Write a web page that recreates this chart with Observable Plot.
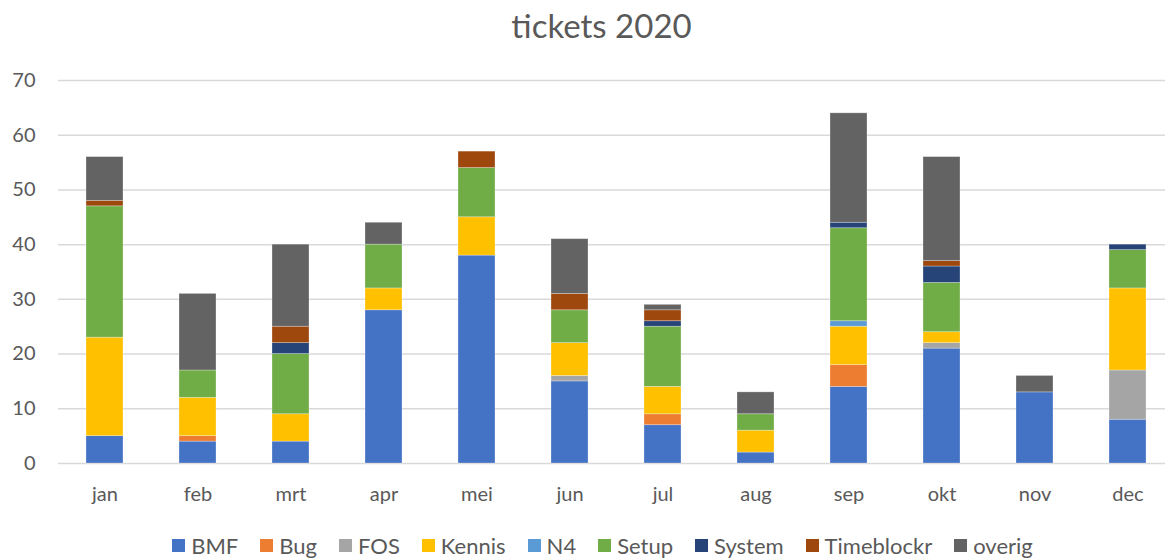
<!DOCTYPE html>
<html>
<head>
<meta charset="utf-8">
<script src="https://cdn.jsdelivr.net/npm/d3@7"></script>
<script src="https://cdn.jsdelivr.net/npm/@observablehq/plot@0.6"></script>
<style>
  body { margin: 0; background: #fff; font-family: Lato, "Noto Sans", sans-serif; overflow: hidden; }
  #title { height: 50px; line-height: 50px; text-align: center; font-size: 33px; color: #595959; padding-left: 38px; }
  #legend { display: flex; justify-content: center; font-size: 22px; color: #595959; margin-top: 12px; padding-left: 40px; }
  .item { display: flex; align-items: center; margin: 0 11px; }
  .sw { width: 13px; height: 13px; margin-right: 6px; }
  svg { display: block; }
</style>
</head>
<body>
<div id="title">tickets 2020</div>
<div id="chart"></div>
<div id="legend"></div>
<script>
const months = ["jan","feb","mrt","apr","mei","jun","jul","aug","sep","okt","nov","dec"];
const seriesNames = ["BMF","Bug","FOS","Kennis","N4","Setup","System","Timeblockr","overig"];
const colors = ["#4472C4","#ED7D31","#A5A5A5","#FFC000","#5B9BD5","#70AD47","#264478","#9E480E","#636363"];

const BMF        = [5, 4, 4, 28, 38, 15, 7, 2, 14, 21, 13, 8];
const Bug        = [0, 1, 0, 0, 0, 0, 2, 0, 4, 0, 0, 0];
const FOS        = [0, 0, 0, 0, 0, 1, 0, 0, 0, 1, 0, 9];
const Kennis     = [18, 7, 5, 4, 7, 6, 5, 4, 7, 2, 0, 15];
const N4         = [0, 0, 0, 0, 0, 0, 0, 0, 1, 0, 0, 0];
const Setup      = [24, 5, 11, 8, 9, 6, 11, 3, 17, 9, 0, 7];
const System     = [0, 0, 2, 0, 0, 0, 1, 0, 1, 3, 0, 1];
const Timeblockr = [1, 0, 3, 0, 3, 3, 2, 0, 0, 1, 0, 0];
const overig     = [8, 14, 15, 4, 0, 10, 1, 4, 20, 19, 3, 0];
const yTicks = [0, 10, 20, 30, 40, 50, 60, 70];

const seriesValues = [BMF, Bug, FOS, Kennis, N4, Setup, System, Timeblockr, overig];
const rows = [];
months.forEach((m, i) => {
  seriesNames.forEach((s, j) => {
    rows.push({month: m, series: s, value: seriesValues[j][i]});
  });
});

const chart = Plot.plot({
  width: 1165,
  height: 470,
  marginTop: 30,
  marginBottom: 57,
  marginLeft: 58,
  marginRight: 0,
  style: {fontFamily: "Lato, 'Noto Sans', sans-serif", fontSize: "20px", color: "#595959"},
  x: {domain: months, range: [58.5, 1174.5], paddingInner: 0.6, paddingOuter: 0.3, label: null},
  y: {domain: [0, 70], ticks: yTicks, label: null},
  color: {domain: seriesNames, range: colors},
  marks: [
    Plot.ruleY(yTicks, {stroke: "#d9d9d9", strokeWidth: 1.5}),
    Plot.barY(rows, {x: "month", y: "value", fill: "series", order: seriesNames, stroke: "#ffffff", strokeOpacity: 0.35, strokeWidth: 0.8}),
    Plot.axisX({tickSize: 0, tickPadding: 23, fill: "#595959"}),
    Plot.axisY({ticks: yTicks, tickSize: 0, tickPadding: 23, fill: "#595959"})
  ]
});
document.getElementById("chart").appendChild(chart);

const legend = document.getElementById("legend");
seriesNames.forEach((s, j) => {
  const it = document.createElement("div");
  it.className = "item";
  it.innerHTML = `<span class="sw" style="background:${colors[j]}"></span><span>${s}</span>`;
  legend.appendChild(it);
});
</script>
</body>
</html>
